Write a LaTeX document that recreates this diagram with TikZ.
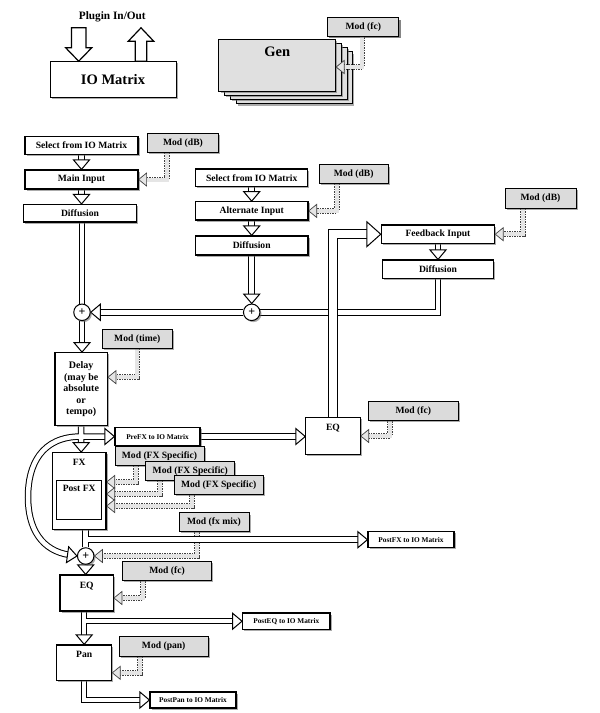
\documentclass[tikz,border=0pt]{standalone}
\usepackage{fontspec}
\setmainfont{Liberation Serif}
\usetikzlibrary{shadows,backgrounds,calc}
\begin{document}
\begin{tikzpicture}[x=1pt,y=-1pt,
  shad/.style={drop shadow={shadow xshift=1.6pt,shadow yshift=-1.6pt,opacity=0.55,fill=black!60}},
  mybox/.style={draw,line width=1.2pt,fill=white,shad,inner sep=0pt,font=\fontsize{9.6}{10}\selectfont\bfseries},
  modbox/.style={mybox,fill=black!14,line width=1pt},
  smallbox/.style={mybox,font=\fontsize{7.3}{8}\selectfont\bfseries},
  wh/.style 2 args={minimum width=#1pt,minimum height=#2pt},
  sumnode/.style={draw,circle,line width=1pt,fill=white,shad,inner sep=0pt,minimum size=16.5pt,font=\fontsize{12}{12}\selectfont\bfseries},
  genbox/.style={draw,line width=1pt,fill=black!12,shad,wh={116.7}{52}},
  blockarr/.style={draw,line width=1.2pt,fill=white,line join=miter},
  dbl/.style={draw=black,line width=1pt,double=white,double distance=4.5pt,line join=miter},
  wdbl/.style={dbl,double distance=7.5pt},
  mdl/.style={draw=black!10,line width=4pt,line join=miter,preaction={draw=black!75,line width=5.6pt,dash pattern=on 1.5pt off 1pt}},
  toplabel/.style={anchor=north,inner sep=0pt,font=\fontsize{9.6}{10}\selectfont\bfseries},
  hd/.pic={\draw[fill=white,line width=1pt,line join=miter] (0,0) -- (-9.5,-8) -- (-9.5,8) -- cycle;},
  bhd/.pic={\draw[fill=white,line width=1pt,line join=miter] (0,0) -- (-14,-12.5) -- (-14,12.5) -- cycle;},
  mhd/.pic={\draw[fill=black!10,draw=black!75,line width=0.7pt,line join=miter] (0,0) -- (-8,-6.5) -- (-8,6.5) -- cycle;}
]
\useasboundingbox (0,0) rectangle (600,713);

% ---------- top left: IO matrix ----------
\node[font=\fontsize{11.3}{12}\selectfont\bfseries] (plug) at (112.3,17.3) {Plugin In/Out};
\node[mybox,line width=1pt,wh={126}{36},font=\fontsize{14.5}{15}\selectfont\bfseries] (io) at (113,79.7) {IO Matrix};
\coordinate (dtip) at ([xshift=-34.3pt]io.north);
\coordinate (ubase) at ([xshift=28pt]io.north);
\draw[blockarr,shift={(dtip)}] (0,0) -- (-13,-13.4) -- (-7.3,-13.4) -- (-7.3,-33.4) -- (7.3,-33.4) -- (7.3,-13.4) -- (13,-13.4) -- cycle;
\draw[blockarr,shift={(ubase)}] (-5.8,0) -- (-5.8,-20) -- (-12.7,-20) -- (0,-33.4) -- (12.7,-20) -- (5.8,-20) -- (5.8,0) -- cycle;

% ---------- top right: Gen stack ----------
\foreach \k in {3,2,1}{
  \node[genbox] (gen\k) at ({277.3+5.7*\k},{65+4.3*\k}) {};
}
\node[genbox] (gen) at (277.3,65) {};
\node[anchor=north,font=\fontsize{14.5}{15}\selectfont\bfseries] (gentext) at ([yshift=-5pt]gen.north) {Gen};
\node[modbox,wh={71.3}{18.7}] (modgen) at (363.3,27.3) {Mod (fc)};
\draw[mdl,shorten >=5pt] ([xshift=-1pt]modgen.south) |- ([yshift=-2pt]gen.east);
\pic[rotate=180] at ([yshift=-2pt]gen.east) {mhd};
\node[modbox,wh={71.3}{18.7}] at (modgen) {Mod (fc)};

% ---------- main column ----------
\node[mybox,wh={113}{18}] (sel1) at (81.5,145.5) {Select from IO Matrix};
\node[modbox,wh={70.6}{19}] (mod1) at (183,142.8) {Mod (dB)};
\node[mybox,wh={113}{19}] (main) at (81.5,179.5) {Main Input};
\node[mybox,wh={113.4}{17.5}] (diff1) at (80,213.3) {Diffusion};
\node[sumnode] (c1) at (82,312.3) {+};

% ---------- alternate column ----------
\node[mybox,wh={112.3}{17.5}] (sel2) at (251.7,177.7) {Select from IO Matrix};
\node[modbox,wh={69.3}{18.5}] (mod2) at (353.7,174.2) {Mod (dB)};
\node[mybox,wh={112.7}{18.3}] (alt) at (251.7,210.9) {Alternate Input};
\node[mybox,wh={112.7}{19}] (diff2) at (251.7,245.5) {Diffusion};
\node[sumnode] (c2) at (251.7,312.3) {+};

% ---------- feedback column ----------
\node[mybox,wh={113.3}{18.3}] (fbin) at (438,234.2) {Feedback Input};
\node[modbox,wh={71}{20}] (mod3) at (540.5,198.3) {Mod (dB)};
\node[mybox,wh={111.6}{18.3}] (diff3) at (438,269.2) {Diffusion};

% ---------- delay / fx ----------
\node[modbox,wh={70}{19.3}] (modtime) at (137.3,338.7) {Mod (time)};
\node[mybox,wh={52.3}{73},align=center,font=\fontsize{10}{11.5}\selectfont\bfseries] (delay) at (81.2,389.2) {Delay\\(may be\\absolute\\or\\tempo)};
\node[smallbox,wh={85}{17.5}] (prefx) at (157.5,436.5) {PreFX to IO Matrix};
\node[mybox,wh={54.3}{36.6},label={[toplabel,yshift=-7pt]north:EQ}] (eq1) at (333,436) {};
\node[modbox,wh={90}{19}] (modfc1) at (413.3,411.2) {Mod (fc)};
\node[mybox,wh={53.7}{76.6},label={[toplabel,yshift=-7pt]north:FX}] (fx) at (79.2,491) {};
\node[draw,line width=0.8pt,fill=white,wh={45}{39},label={[toplabel,yshift=-5pt]north:Post FX}] (postfx) at (79.2,499.5) {};
\node[modbox,wh={89}{18.5}] (modfx1) at (159.5,455.8) {Mod (FX Specific)};
\node[modbox,wh={89}{18.5}] (modfx2) at (190.3,470.8) {Mod (FX Specific)};
\node[modbox,wh={89}{19.5}] (modfx3) at (218.7,485) {Mod (FX Specific)};
\node[modbox,wh={70}{18.7}] (modmix) at (214,522.3) {Mod (fx mix)};
\node[sumnode] (c3) at (85.7,556) {+};
\node[smallbox,wh={86}{16}] (postfxio) at (411,539.7) {PostFX to IO Matrix};

% ---------- eq / pan ----------
\node[mybox,wh={53.3}{36},label={[toplabel,yshift=-8pt]north:EQ}] (eq2) at (86.7,593) {};
\node[modbox,wh={89.4}{19}] (modfc2) at (167,571.2) {Mod (fc)};
\node[smallbox,wh={87.3}{16.3}] (posteq) at (286.3,621.2) {PostEQ to IO Matrix};
\node[mybox,wh={55}{35.7},label={[toplabel,yshift=-7pt]north:Pan}] (pan) at (84.2,662.8) {};
\node[modbox,wh={89}{20}] (modpan) at (163.7,646.2) {Mod (pan)};
\node[smallbox,wh={86}{16}] (postpan) at (193,700) {PostPan to IO Matrix};

% ---------- connectors ----------
\begin{scope}[on background layer]
\fill[white] (0,0) rectangle (600,713);

% modulation inputs
\coordinate (dme) at ([yshift=12pt]delay.east);
\coordinate (fxe1) at ([yshift=9pt]fx.east);
\coordinate (fxe2) at ([yshift=-3pt]fx.east);
\coordinate (fxe3) at ([yshift=-15pt]fx.east);
\coordinate (eq2e) at ([yshift=-5pt]eq2.east);
\coordinate (pane) at ([yshift=-10pt]pan.east);
\draw[mdl,shorten >=5pt] ([xshift=-16.3pt]mod1.south) |- (main.east);
\pic[rotate=180] at (main.east) {mhd};
\draw[mdl,shorten >=5pt] ([xshift=-17pt]mod2.south) |- (alt.east);
\pic[rotate=180] at (alt.east) {mhd};
\draw[mdl,shorten >=5pt] ([xshift=-17.5pt]mod3.south) |- (fbin.east);
\pic[rotate=180] at (fbin.east) {mhd};
\draw[mdl,shorten >=5pt] (modtime.south) |- (dme);
\pic[rotate=180] at (dme) {mhd};
\draw[mdl,shorten >=5pt] ([xshift=-23.3pt]modfc1.south) |- (eq1.east);
\pic[rotate=180] at (eq1.east) {mhd};
\draw[mdl,shorten >=5pt] ([xshift=-23.5pt]modfx1.south) |- (fxe1);
\pic[rotate=180] at (fxe1) {mhd};
\draw[mdl,shorten >=5pt] ([xshift=-30.3pt]modfx2.south) |- (fxe2);
\pic[rotate=180] at (fxe2) {mhd};
\draw[mdl,shorten >=5pt] ([xshift=-26.7pt]modfx3.south) |- (fxe3);
\pic[rotate=180] at (fxe3) {mhd};
\draw[mdl,shorten >=5pt] ([xshift=-17pt]modmix.south) |- (c3.east);
\pic[rotate=180] at (c3.east) {mhd};
\draw[mdl,shorten >=5pt] ([xshift=-24pt]modfc2.south) |- (eq2e);
\pic[rotate=180] at (eq2e) {mhd};
\draw[mdl,shorten >=5pt] ([xshift=-23.7pt]modpan.south) |- (pane);
\pic[rotate=180] at (pane) {mhd};

% main column
\draw[dbl,shorten >=7pt] (sel1.south) -- (main.north);
\pic[rotate=-90] at (main.north) {hd};
\draw[dbl,shorten >=7pt] (main.south) -- (main.south |- diff1.north);
\pic[rotate=-90] at (main.south |- diff1.north) {hd};
\draw[dbl] (diff1.south -| c1) -- (c1.north);

% alternate column
\draw[dbl,shorten >=7pt] (sel2.south) -- (alt.north);
\pic[rotate=-90] at (alt.north) {hd};
\draw[dbl,shorten >=7pt] (alt.south) -- (diff2.north);
\pic[rotate=-90] at (diff2.north) {hd};
\draw[dbl,shorten >=7pt] (diff2.south) -- (c2.north);
\pic[rotate=-90] at (c2.north) {hd};

% feedback column
\draw[dbl,shorten >=7pt] (fbin.south) -- (diff3.north);
\pic[rotate=-90] at (diff3.north) {hd};
\draw[dbl] (diff3.south) |- (c2.east);
\draw[dbl,shorten >=7pt] (c2.west) -- (c1.east);
\pic[rotate=180] at (c1.east) {hd};

% EQ feedback
\draw[wdbl,shorten >=10pt] (eq1.north) |- (fbin.west);
\pic at (fbin.west) {bhd};

% into delay
\draw[dbl,shorten >=7pt] (c1.south) -- (c1.south |- delay.north);
\pic[rotate=-90] at (c1.south |- delay.north) {hd};

% delay output: to FX, to PreFX, bypass curve
\coordinate (split) at (delay.south |- prefx.west);
\draw[dbl] (delay.south) -- ([yshift=7pt]delay.south |- fx.north)
  (split) -- ([xshift=-7pt]prefx.west)
  (split) .. controls +(-40,0) and +(0,-32) .. (28,497) .. controls +(0,32) and +(-28,-4) .. ([xshift=-7pt,yshift=1pt]c3.west);
\pic[rotate=-90] at (delay.south |- fx.north) {hd};
\pic at (prefx.west) {hd};
\pic[rotate=-8] at (c3.west) {hd};
\draw[dbl,shorten >=7pt] (prefx.east) -- (prefx.east -| eq1.west);
\pic at (prefx.east -| eq1.west) {hd};

% FX output
\coordinate (fxb) at (c3 |- postfxio.west);
\draw[dbl] (fx.south -| c3) -- (c3.north) (fxb) -- ([xshift=-7pt]postfxio.west);
\pic at (postfxio.west) {hd};
\draw[dbl,shorten >=7pt] (c3.south) -- (c3.south |- eq2.north);
\pic[rotate=-90] at (c3.south |- eq2.north) {hd};

% EQ output
\coordinate (eqb) at (pan.north |- posteq.west);
\draw[dbl] (pan.north |- eq2.south) -- ([yshift=7pt]pan.north) (eqb) -- ([xshift=-7pt]posteq.west);
\pic[rotate=-90] at (pan.north) {hd};
\pic at (posteq.west) {hd};

% Pan output
\draw[dbl,shorten >=7pt] (pan.south) |- (postpan.west);
\pic at (postpan.west) {hd};
\end{scope}
\end{tikzpicture}
\end{document}
